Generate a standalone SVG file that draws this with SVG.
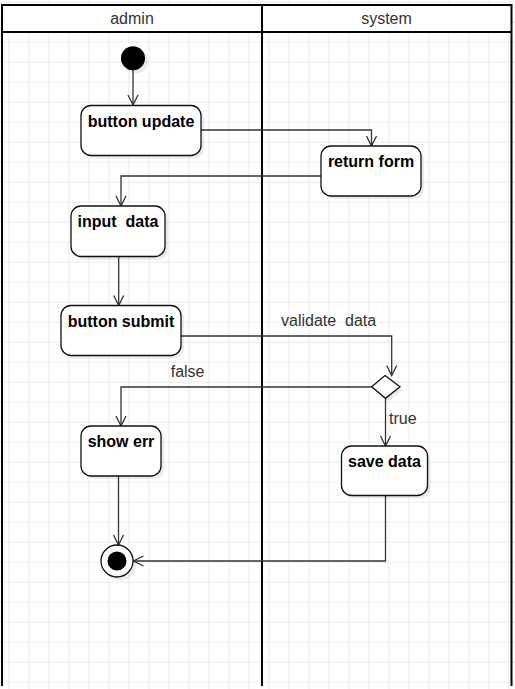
<svg xmlns="http://www.w3.org/2000/svg" width="515" height="689" viewBox="0 0 515 689">
<defs>
<pattern id="grid" patternUnits="userSpaceOnUse" x="8.3" y="1.7" width="20" height="20">
<path d="M0 0.5H20M0.5 0V20" stroke="#ececec" stroke-width="1" fill="none"/>
</pattern>
<marker id="arr" markerUnits="userSpaceOnUse" markerWidth="12" markerHeight="12" viewBox="0 0 12 12" refX="11" refY="6" orient="auto">
<path d="M1 1L11 6L1 11" fill="none" stroke="#333" stroke-width="1.3"/>
</marker>
</defs>
<style>
.box{fill:#fff;stroke:#111;stroke-width:1.3}
.sh{fill:#000;opacity:0.08}
.lbl{font-family:"Liberation Sans",Arial,sans-serif;font-size:16px;font-weight:bold;fill:#000;text-anchor:middle;white-space:pre}
.hdr{font-family:"Liberation Sans",Arial,sans-serif;font-size:16px;fill:#333;text-anchor:middle}
.el{font-family:"Liberation Sans",Arial,sans-serif;font-size:16px;fill:#333;white-space:pre}
.ln{fill:none;stroke:#333;stroke-width:1.3;marker-end:url(#arr)}
.frame{stroke:#000;stroke-width:2;fill:none}
</style>
<rect width="515" height="689" fill="#fff"/>
<rect width="515" height="689" fill="url(#grid)"/>
<g id="lanes">
<rect x="2" y="5" width="509.5" height="27" fill="#fff"/>
<path class="frame" d="M2 686V5H511.5V686M2 32H511.5M262 5V686"/>
<text class="hdr" x="132" y="24">admin</text>
<text class="hdr" x="386.5" y="24">system</text>
</g>
<g id="connectors">
<path class="ln" d="M133 70V105"/>
<path class="ln" d="M201 130H371.5V146"/>
<path class="ln" d="M321 176H121V206"/>
<path class="ln" d="M118.7 256.5V305.5"/>
<path class="ln" d="M181 336H391.7V375.5"/>
<path class="ln" d="M371.7 387H121V426"/>
<path class="ln" d="M385.5 398.3V446"/>
<path class="ln" d="M385.5 495.5V561H133.5"/>
<path class="ln" d="M118.5 476V545"/>
<text class="el" x="281" y="326">validate  data</text>
<text class="el" x="170.7" y="377">false</text>
<text class="el" x="389" y="424">true</text>
</g>
<g id="start">
<circle class="sh" cx="136" cy="61.5" r="12"/>
<circle cx="133" cy="58.3" r="12" fill="#000"/>
</g>
<g id="button-update">
<rect class="sh" x="84" y="108.5" width="120" height="50" rx="10"/>
<rect class="box" x="81" y="105.5" width="120" height="50" rx="10"/>
<text class="lbl" x="141" y="126.5">button update</text>
</g>
<g id="return-form">
<rect class="sh" x="324" y="149" width="100" height="50" rx="10"/>
<rect class="box" x="321" y="146" width="100" height="50" rx="10"/>
<text class="lbl" x="371" y="167">return form</text>
</g>
<g id="input-data">
<rect class="sh" x="74" y="209" width="94" height="51" rx="10"/>
<rect class="box" x="71" y="206" width="94" height="50.5" rx="10"/>
<text class="lbl" x="118" y="226.7">input  data</text>
</g>
<g id="button-submit">
<rect class="sh" x="64" y="308.5" width="120" height="50" rx="10"/>
<rect class="box" x="61" y="305.5" width="120" height="50" rx="10"/>
<text class="lbl" x="121" y="326.7">button submit</text>
</g>
<g id="decision">
<polygon class="sh" points="388,379 403,390 388.5,401.3 374.7,390"/>
<polygon class="box" points="385,375.5 400,386.8 385.5,398.3 371.7,386.8"/>
</g>
<g id="show-err">
<rect class="sh" x="84" y="429" width="80" height="50" rx="10"/>
<rect class="box" x="81" y="426" width="80" height="50" rx="10"/>
<text class="lbl" x="121" y="446.7">show err</text>
</g>
<g id="save-data">
<rect class="sh" x="344.5" y="449" width="86" height="49.5" rx="10"/>
<rect class="box" x="341.5" y="446" width="86" height="49.5" rx="10"/>
<text class="lbl" x="384.5" y="466.7">save data</text>
</g>
<g id="end">
<circle class="sh" cx="120" cy="564.5" r="16"/>
<circle cx="117" cy="561" r="16" fill="#fff" stroke="#111" stroke-width="1.3"/>
<circle cx="117" cy="561" r="9.5" fill="#000"/>
</g>
</svg>
